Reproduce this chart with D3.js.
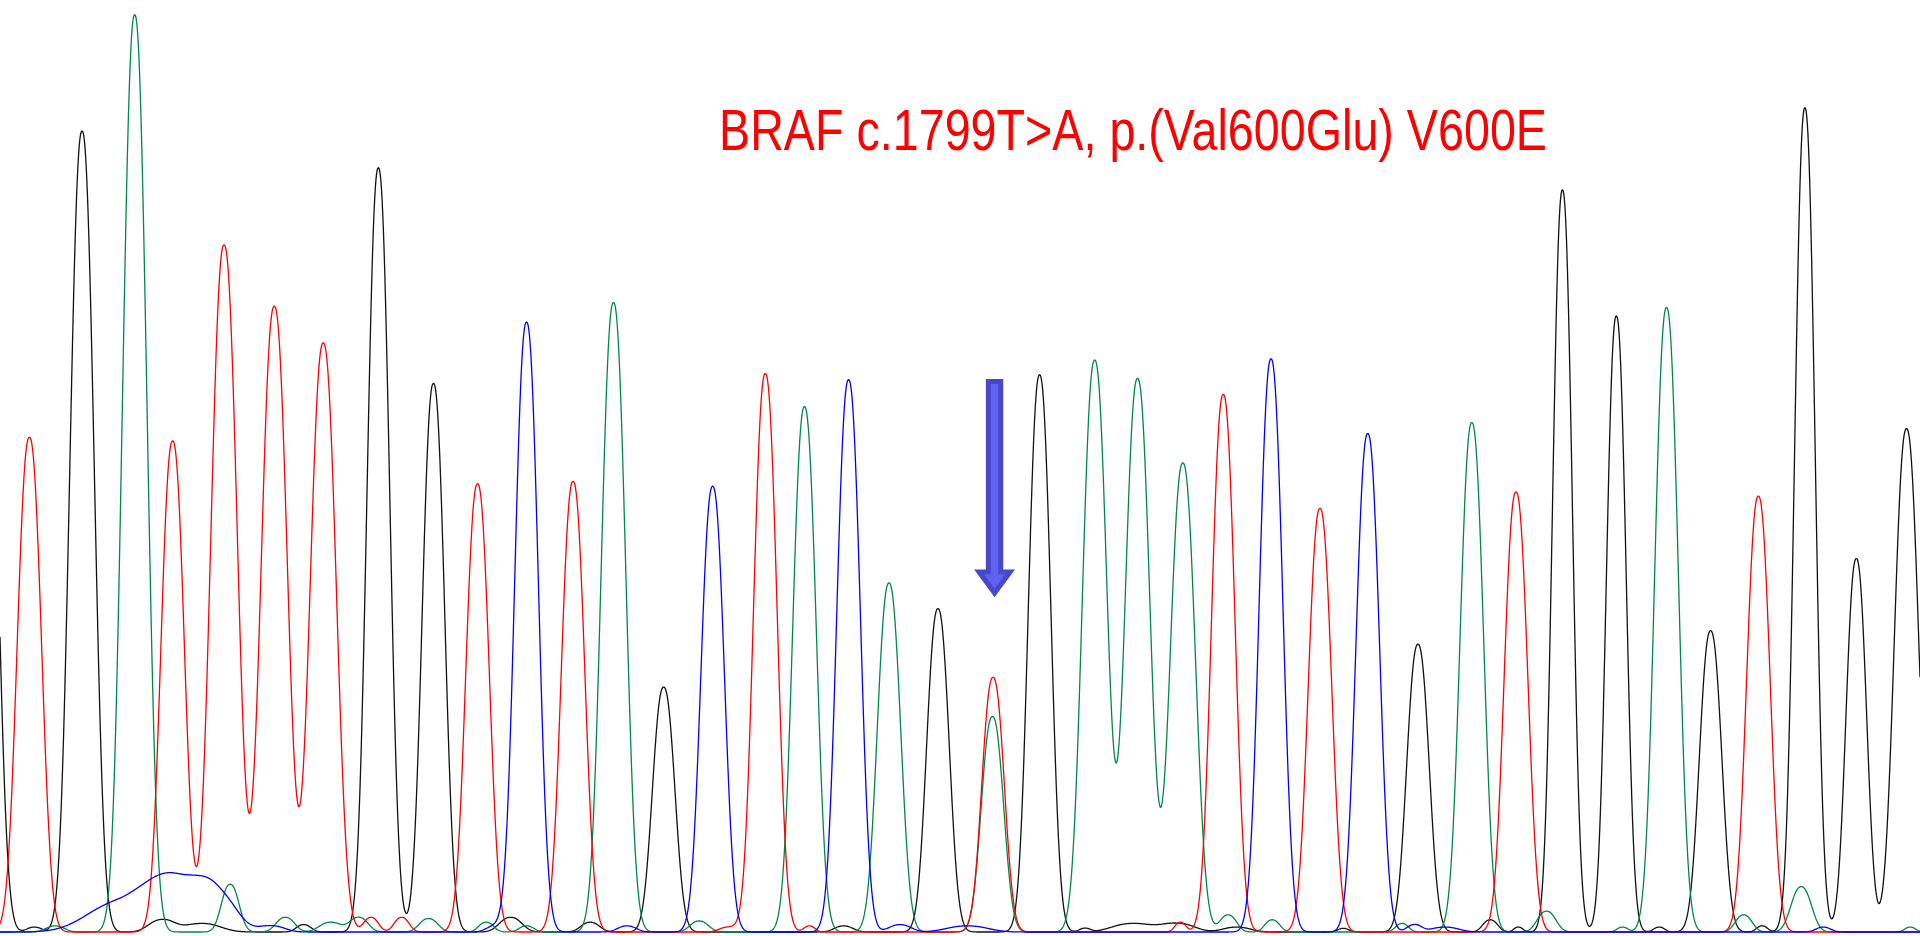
<!DOCTYPE html>
<html>
<head>
<meta charset="utf-8">
<script src="https://cdnjs.cloudflare.com/ajax/libs/d3/7.8.5/d3.min.js"></script>
<style>
  html, body { margin: 0; padding: 0; background: #fff; overflow: hidden; }
</style>
</head>
<body>
<div id="chart"></div>
<script>
const WIDTH = 1920;
const HEIGHT = 936;

// trace window (scan units) and signal range
const scanRange = [0, 1568];
const signalRange = [0, 761];

// peaks: [scan position, signal, width]
const peaksG = [
  [-12, 554, 13], [67, 654, 13], [309, 624, 12], [354, 448, 12], [542, 200, 12],
  [766, 264, 12], [849, 455, 12], [1158, 235, 12], [1276, 606, 10.5], [1320, 503, 10.5],
  [1397, 246, 12], [1474, 673, 11], [1516, 305, 11], [1557, 411, 13],
  // background
  [28, 4, 8], [132, 10, 14], [165, 7, 20], [248, 6, 8], [417, 12, 12], [482, 8, 10],
  [689, 5, 10], [886, 3, 6], [925, 7, 22], [962, 7, 18], [1010, 4, 15], [1097, 3, 6],
  [1217, 10, 8], [1240, 4, 5], [1355, 4, 6], [1439, 5, 6]
];
const peaksA = [
  [110, 749, 13], [501, 514, 13], [657, 429, 12.5], [726, 285, 12.5], [810.5, 176, 12],
  [894, 467, 13.2], [929, 452, 13.3], [966, 383, 13.5], [1202, 416, 12.5], [1361, 510, 12.5],
  // background
  [45, 5, 10], [188, 39, 9.5], [233, 12, 10], [270, 8, 12], [293, 12, 10], [350, 11, 10],
  [397, 8, 8], [430, 5, 8], [571, 9, 10], [1003, 14, 9], [1039, 10, 8], [1145, 7, 7],
  [1263, 17, 10], [1325, 4, 6], [1424, 14, 9], [1471, 37, 11], [1560, 4, 6]
];
const peaksT = [
  [24, 404, 13], [141, 401, 12.5], [183, 561, 14], [224, 511, 14], [264, 481, 14],
  [390, 366, 12.5], [468, 368, 12.5], [625, 456, 12.5], [811, 208, 12], [999, 439, 12.5],
  [1078, 346, 12.5], [1238, 359, 12.5], [1436, 356, 12.5],
  // background
  [303, 12, 8], [328, 12, 8], [595, 4, 10], [661, 5, 6], [964, 8, 6], [1250, 4, 8]
];
const peaksC = [
  [430, 498, 12.5], [582, 364, 12.5], [693, 451, 12.5], [1038, 468, 12.5], [1117, 407, 12.5],
  // background
  [100, 24, 38], [148, 42, 34], [180, 18, 20], [222, 5, 14], [405, 5, 10], [512, 5, 10],
  [735, 6, 12], [790, 5, 22], [1155, 6, 8], [1180, 4, 15], [1489, 4, 8]
];

const bases = ["G", "A", "T", "C"];
const baseColors = ["#111111", "#00884a", "#ff0000", "#0000ff"];

const mutationScan = 811;
const titleText = "BRAF c.1799T>A, p.(Val600Glu) V600E";

const svg = d3.select("#chart")
  .append("svg")
  .attr("width", WIDTH)
  .attr("height", HEIGHT);

const x = d3.scaleLinear().domain(scanRange).range([0, WIDTH]);
const y = d3.scaleLinear().domain(signalRange).range([932, 0]);

// peak shape
const shape = (d, w) => Math.exp(-Math.pow(Math.abs(d) / w, 2.3));

const scans = d3.range(scanRange[0], scanRange[1] + 0.5, 0.5);

function trace(peaks) {
  return scans.map(s => [s, d3.sum(peaks, p => p[1] * shape(s - p[0], p[2]))]);
}

const line = d3.line()
  .x(d => x(d[0]))
  .y(d => y(d[1]));

const channels = [peaksG, peaksA, peaksT, peaksC];

svg.selectAll("path.trace")
  .data(channels)
  .join("path")
  .attr("class", "trace")
  .attr("fill", "none")
  .attr("stroke", (d, i) => baseColors[i])
  .attr("stroke-width", 1.3)
  .attr("stroke-linejoin", "round")
  .attr("d", d => line(trace(d)));

// arrow over the mixed T/A peak
const cx = x(mutationScan) + 1.5;
const arrowPts = [
  [cx - 6.2, 381.5], [cx + 6.2, 381.5], [cx + 6.2, 572], [cx + 15.5, 572],
  [cx, 593], [cx - 15.5, 572], [cx - 6.2, 572]
];
svg.append("polygon")
  .attr("points", arrowPts.map(p => p.join(",")).join(" "))
  .attr("fill", "#6161f6")
  .attr("stroke", "#4848c8")
  .attr("stroke-width", 5)
  .attr("stroke-linejoin", "miter");

svg.append("text")
  .attr("x", 719)
  .attr("y", 149.5)
  .attr("fill", "#ff0000")
  .style("font-family", "'Liberation Sans', Arial, sans-serif")
  .style("font-size", "57px")
  .attr("textLength", 828)
  .attr("lengthAdjust", "spacingAndGlyphs")
  .text(titleText);
</script>
</body>
</html>
